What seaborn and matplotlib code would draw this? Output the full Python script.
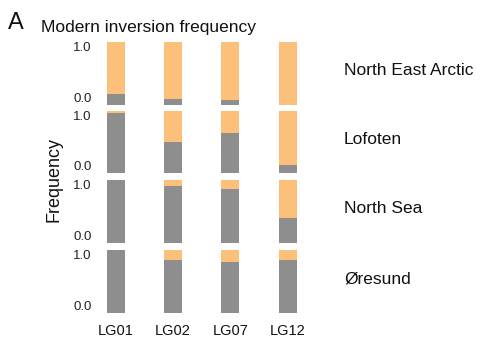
import matplotlib
matplotlib.use("Agg")
import matplotlib.pyplot as plt
import seaborn as sns
import pandas as pd

sns.set_theme(style="white")
plt.rcParams['font.family'] = ['Liberation Sans', 'DejaVu Sans']

loci = ["LG01", "LG02", "LG07", "LG12"]
regions = ["North East Arctic", "Lofoten", "North Sea", "Øresund"]
# grey share (standard arrangement) per region, per locus; orange fills to 1.0
grey_values = {
    "North East Arctic": [0.17, 0.09, 0.07, 0.0],
    "Lofoten": [0.97, 0.50, 0.64, 0.14],
    "North Sea": [1.0, 0.91, 0.85, 0.39],
    "Øresund": [1.0, 0.83, 0.81, 0.83],
}
orange = "#FDC07A"
grey = "#8E8E8E"

W, H = 490, 345
fig = plt.figure(figsize=(W / 100, H / 100), dpi=100)

left_px, width_px = 95.6, 212.1
tops_px = [42.0, 110.7, 180.0, 249.7]
height_px = 62.8

axes = []
for i, reg in enumerate(regions):
    top = tops_px[i]
    ax = fig.add_axes([left_px / W, 1 - (top + height_px) / H, width_px / W, height_px / H])
    df = pd.DataFrame({"locus": loci, "total": [1.0] * 4, "grey": grey_values[reg]})
    sns.barplot(data=df, x="locus", y="total", color=orange, width=0.314,
                saturation=1, ax=ax, edgecolor="none")
    sns.barplot(data=df, x="locus", y="grey", color=grey, width=0.314,
                saturation=1, ax=ax, edgecolor="none")
    ax.set_xlim(-0.35, 3.35)
    ax.set_ylim(0, 1)
    for s in ax.spines.values():
        s.set_visible(False)
    ax.set_yticks([0, 1])
    ax.set_yticklabels(["0.0", "1.0"], fontsize=9.5, color="#222222")
    labs = ax.get_yticklabels()
    labs[0].set_va("bottom")
    labs[1].set_va("top")
    ax.tick_params(axis="y", length=0, pad=3)
    ax.set_ylabel("")
    ax.set_xlabel("")
    if i < 3:
        ax.set_xticks([])
    else:
        ax.tick_params(axis="x", length=0, pad=8, labelsize=10.5, labelcolor="#111111")
    ax.text(1.171, 0.54, reg, transform=ax.transAxes, fontsize=12.5,
            va="center", ha="left", color="#111111")
    axes.append(ax)

fig.text(54 / W, 1 - 180 / H, "Frequency", rotation=90, fontsize=13,
         va="center", ha="center", color="#111111")
fig.text(41 / W, 1 - 32.3 / H, "Modern inversion frequency", fontsize=12.5,
         va="baseline", ha="left", color="#111111")
fig.text(8 / W, 1 - 29.3 / H, "A", fontsize=17, va="baseline", ha="left",
         color="#111111")

fig.savefig("out.png", dpi=100)
